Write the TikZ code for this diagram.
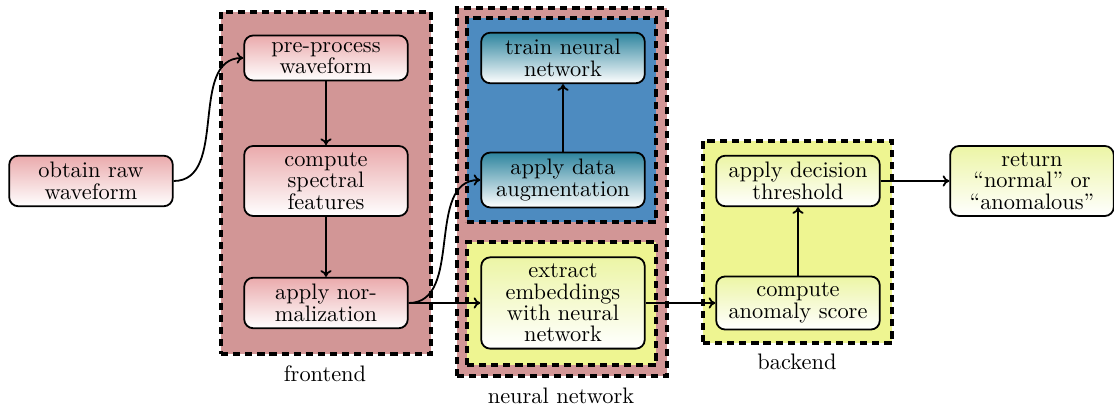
\documentclass[tikz,border=0pt]{standalone}
\usetikzlibrary{arrows.meta}
\definecolor{feFill}{RGB}{210,150,150}
\definecolor{nnBlue}{RGB}{77,139,192}
\definecolor{beYel}{RGB}{238,245,145}
\definecolor{pinkTop}{RGB}{234,170,172}
\definecolor{tealTop}{RGB}{45,132,158}
\definecolor{yelTop}{RGB}{236,245,165}
\tikzset{
  proc/.style={draw=black, thick, rounded corners=4pt, align=center, minimum width=73pt,
    inner sep=3pt, font=\fontsize{10}{9.5}\selectfont, bottom color=white},
  pinkproc/.style={proc, top color=pinkTop},
  tealproc/.style={proc, top color=tealTop},
  yelproc/.style={proc, top color=yelTop},
  group/.style={draw=black, line width=1.6pt, dash pattern=on 3.2pt off 2.2pt, inner sep=0pt},
  lbl/.style={font=\fontsize{10}{12}\selectfont, inner sep=0pt},
  conn/.style={thick, -{To[length=3pt,width=5pt]}}
}
\begin{document}
\begin{tikzpicture}[x=0.4464pt, y=-0.4464pt]
\useasboundingbox (0,0) rectangle (1114,405);
% group boxes
\node[group, fill=feFill, minimum width=93.7pt, minimum height=152.7pt] (fe) at (326,183) {};
\node[group, fill=feFill, minimum width=93.7pt, minimum height=164.3pt] (nn) at (562,192) {};
\node[group, fill=nnBlue, minimum width=84.4pt, minimum height=91.1pt] (nnb) at (561.5,120) {};
\node[group, fill=beYel, minimum width=84.4pt, minimum height=54.9pt] (nny) at (561.5,303.5) {};
\node[group, fill=beYel, minimum width=84.4pt, minimum height=90.2pt] (be) at (797.5,242) {};
% labels
\node[lbl] (felbl) at (325,374) {frontend};
\node[lbl] (nnlbl) at (561,396) {neural network};
\node[lbl] (belbl) at (797,362) {backend};
% process nodes
\node[pinkproc] (raw) at (91,181) {obtain raw\\waveform};
\node[pinkproc] (pre) at (326,58) {pre-process\\waveform};
\node[pinkproc] (spec) at (326,181) {compute\\spectral\\features};
\node[pinkproc] (norm) at (326,303) {apply nor-\\malization};
\node[tealproc] (train) at (563,58) {train neural\\network};
\node[tealproc] (aug) at (563,180) {apply data\\augmentation};
\node[yelproc] (emb) at (563,303) {extract\\embeddings\\with neural\\network};
\node[yelproc] (thr) at (798,181) {apply decision\\threshold};
\node[yelproc] (score) at (798,303) {compute\\anomaly score};
\node[yelproc] (ret) at (1032,181) {return\\``normal'' or\\``anomalous''};
% connectors
\draw[conn] (raw.east) to[out=0,in=180] (pre.west);
\draw[conn] (pre) -- (spec);
\draw[conn] (spec) -- (norm);
\draw[conn] (norm.east) to[out=0,in=180] (aug.west);
\draw[conn] (norm.east) -- (emb.west);
\draw[conn] (aug) -- (train);
\draw[conn] (emb.east) -- (score.west);
\draw[conn] (score) -- (thr);
\draw[conn] (thr.east) -- (ret.west);
\end{tikzpicture}
\end{document}
